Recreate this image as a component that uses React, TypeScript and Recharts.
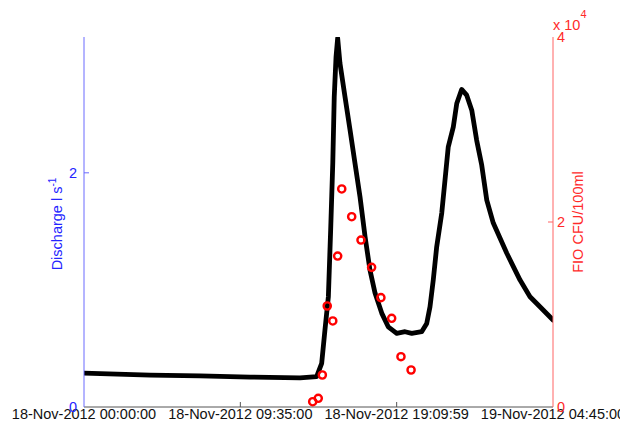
import { ComposedChart, Line, Scatter, XAxis, YAxis } from "recharts";

// time axis in hours after 18-Nov-2012 00:00:00
const flowHours = [
  0, 4.05, 7.11, 10.18, 13.24, 14.26, 14.57, 14.77, 14.98, 15.12, 15.25, 15.34, 15.45, 15.55,
  15.69, 16.0, 16.31, 16.61, 16.92, 17.23, 17.53, 17.84, 18.25, 18.65, 19.17, 19.68, 20.09,
  20.7, 21.01, 21.21, 21.41, 21.62, 21.93, 22.13, 22.33, 22.64, 22.85, 23.15, 23.46, 23.77,
  24.07, 24.38, 24.69, 25.09, 25.91, 26.73, 27.34, 27.95, 28.75,
];
const discharge = [
  0.29, 0.273, 0.265, 0.256, 0.248, 0.259, 0.373, 0.657, 0.942, 1.511, 2.083, 2.649, 2.99, 3.15,
  2.936, 2.649, 2.364, 2.083, 1.795, 1.454, 1.17, 0.973, 0.802, 0.685, 0.629, 0.643, 0.629,
  0.643, 0.714, 0.856, 1.084, 1.368, 1.656, 1.938, 2.222, 2.393, 2.592, 2.712, 2.663, 2.535,
  2.279, 2.066, 1.767, 1.571, 1.315, 1.084, 0.942, 0.856, 0.743,
];

const sampleHours = [14.02, 14.36, 14.61, 14.91, 15.25, 15.55, 15.8, 16.41, 16.98, 17.63, 18.2, 18.86, 19.43, 20.05];
const fio = [570, 940, 3460, 10920, 9300, 16320, 23570, 20570, 18050, 15100, 11820, 9590, 5440, 4000];

const xTicks = [0, 9.5833333, 19.1666666, 28.75];
const xTickLabels = ["18-Nov-2012 00:00:00", "18-Nov-2012 09:35:00", "18-Nov-2012 19:09:59", "19-Nov-2012 04:45:00"];
const leftTicks = [0, 2];
const rightTicks = [0, 20000, 40000];
const rightTickLabels = ["0", "2", "4"];

const flowData = flowHours.map((h, i) => ({ h, q: discharge[i] }));
const fioData = sampleHours.map((h, i) => ({ h, fio: fio[i] }));

const FONT = "'Liberation Sans', Arial, Helvetica, sans-serif";
const FS = 14.5;
const BLUE = "#2424ff";
const BLUE_AXIS = "#6a6aff";
const RED = "#ff2a2a";
const RED_AXIS = "#ff6464";
const FRAME = "#555";

const tickIndex = (arr: number[], v: number) => arr.findIndex((t) => Math.abs(t - v) < 1e-6);

function BottomTick({ x, y, payload }: any) {
  const i = tickIndex(xTicks, payload.value);
  const inner = i > 0 && i < xTicks.length - 1;
  return (
    <g>
      {inner && <line x1={x} x2={x} y1={y} y2={y - 5} stroke={FRAME} />}
      <text x={x} y={y + 12} textAnchor="middle" fontSize={FS} fontFamily={FONT} fill="#111">
        {xTickLabels[i]}
      </text>
    </g>
  );
}

function TopTick({ x, y, payload }: any) {
  const i = tickIndex(xTicks, payload.value);
  if (i <= 0 || i >= xTicks.length - 1) return <g />;
  return <line x1={x} x2={x} y1={y} y2={y + 5} stroke={FRAME} />;
}

function LeftTick({ x, y, payload }: any) {
  return (
    <g>
      {payload.value !== 0 && <line x1={x + 7} x2={x + 12} y1={y} y2={y} stroke={BLUE_AXIS} />}
      <text x={x} y={y + 5} textAnchor="end" fontSize={FS} fontFamily={FONT} fill={BLUE}>
        {payload.value}
      </text>
    </g>
  );
}

function MirrorTick({ x, y }: any) {
  return <line x1={x} x2={x - 5} y1={y} y2={y} stroke={BLUE_AXIS} />;
}

function RightTick({ x, y, payload }: any) {
  const i = tickIndex(rightTicks, payload.value);
  return (
    <g>
      {i > 0 && i < rightTicks.length - 1 && <line x1={x - 4} x2={x - 9} y1={y} y2={y} stroke={RED_AXIS} />}
      <text x={x} y={y + 5} textAnchor="start" fontSize={FS} fontFamily={FONT} fill={RED}>
        {rightTickLabels[i]}
      </text>
    </g>
  );
}

function Title({ viewBox }: any) {
  return (
    <text x={viewBox.x + viewBox.width / 2} y={viewBox.y - 13} textAnchor="middle" fontSize={FS} fontFamily={FONT} fill="#111">
      18-Nov-2012 23:30:00
    </text>
  );
}

function LeftLabel({ viewBox }: any) {
  const cx = viewBox.x + 62;
  const cy = viewBox.y + viewBox.height / 2 + 2;
  return (
    <text x={cx} y={cy} transform={`rotate(-90, ${cx}, ${cy})`} textAnchor="middle" fontSize={FS} fontFamily={FONT} fill={BLUE}>
      <tspan>Discharge l s</tspan>
      <tspan dy={-6} fontSize={10}>-1</tspan>
    </text>
  );
}

function RightLabel({ viewBox }: any) {
  const cx = viewBox.x + 30;
  const cy = viewBox.y + viewBox.height / 2;
  return (
    <g>
      <text x={cx} y={cy} transform={`rotate(-90, ${cx}, ${cy})`} textAnchor="middle" fontSize={FS} fontFamily={FONT} fill={RED}>
        FIO CFU/100ml
      </text>
      <text x={viewBox.x} y={viewBox.y - 7} textAnchor="start" fontSize={FS} fontFamily={FONT} fill={RED}>
        <tspan>x 10</tspan>
        <tspan dy={-12} fontSize={11}>4</tspan>
      </text>
    </g>
  );
}

const Ring = ({ cx, cy }: any) => (
  <circle cx={cx} cy={cy} r={3.6} fill="none" stroke="#ff0000" strokeWidth={2.4} />
);

export default function App() {
  return (
    <div style={{ position: "absolute", left: 0, top: 0, background: "#fff" }}>
      <ComposedChart width={620} height={432} margin={{ top: 37, right: 0, bottom: 0, left: 0 }} style={{ fontFamily: FONT }}>
        <XAxis
          dataKey="h"
          type="number"
          domain={[0, 28.75]}
          ticks={xTicks}
          allowDataOverflow
          height={25}
          tickSize={0}
          tickMargin={0}
          tickLine={false}
          axisLine={{ stroke: FRAME }}
          tick={<BottomTick />}
          interval={0}
        />
        <XAxis
          xAxisId="top"
          orientation="top"
          dataKey="h"
          type="number"
          domain={[0, 28.75]}
          ticks={xTicks}
          height={0}
          tickSize={0}
          tickMargin={0}
          tickLine={false}
          axisLine={{ stroke: FRAME }}
          tick={<TopTick />}
          interval={0}
          label={{ content: <Title /> }}
        />
        <YAxis
          yAxisId="left"
          dataKey="q"
          domain={[0, 3.16]}
          ticks={leftTicks}
          allowDataOverflow
          width={84}
          tickSize={0}
          tickMargin={7}
          tickLine={false}
          axisLine={{ stroke: BLUE_AXIS }}
          tick={<LeftTick />}
          interval={0}
          label={{ content: <LeftLabel /> }}
        />
        <YAxis
          yAxisId="mirror"
          orientation="right"
          domain={[0, 3.16]}
          ticks={[2]}
          width={0}
          tickSize={0}
          tickMargin={0}
          tickLine={false}
          axisLine={false}
          tick={<MirrorTick />}
          interval={0}
        />
        <YAxis
          yAxisId="right"
          orientation="right"
          dataKey="fio"
          domain={[0, 40000]}
          ticks={rightTicks}
          allowDataOverflow
          width={67}
          tickSize={0}
          tickMargin={4}
          tickLine={false}
          axisLine={{ stroke: RED_AXIS }}
          tick={<RightTick />}
          interval={0}
          label={{ content: <RightLabel /> }}
        />
        <Line
          yAxisId="left"
          data={flowData}
          dataKey="q"
          type="linear"
          stroke="#000"
          strokeWidth={4.8}
          strokeLinejoin="round"
          strokeLinecap="round"
          dot={false}
          isAnimationActive={false}
        />
        <Scatter yAxisId="right" data={fioData} dataKey="fio" shape={<Ring />} isAnimationActive={false} />
      </ComposedChart>
    </div>
  );
}
